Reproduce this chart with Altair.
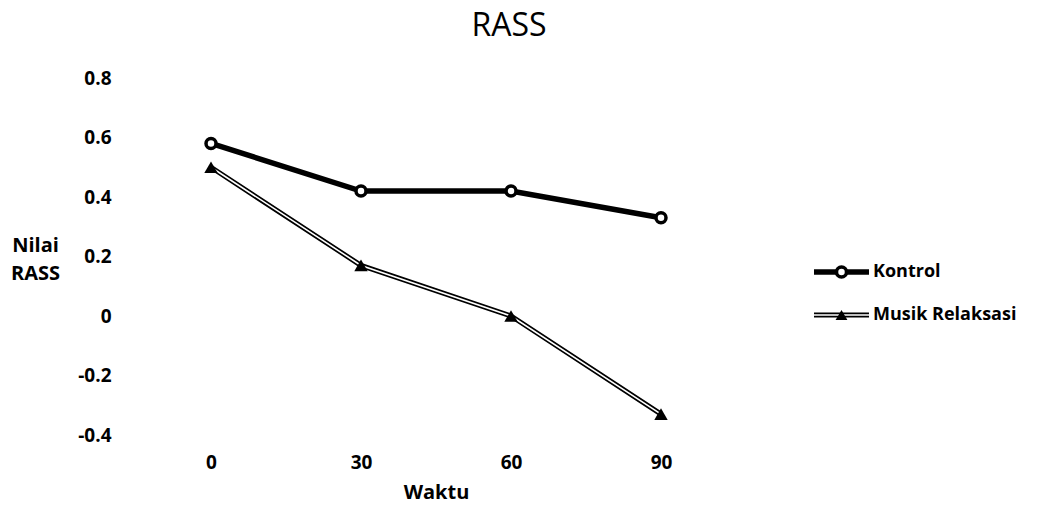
import altair as alt
import pandas as pd

# ---- data ----
waktu = [0, 30, 60, 90]
kontrol = [0.58, 0.42, 0.42, 0.33]
musik = [0.50, 0.17, 0.00, -0.33]
series = ["Kontrol", "Musik Relaksasi"]
y_ticks = [-0.4, -0.2, 0, 0.2, 0.4, 0.6, 0.8]
x_domain = [-15, 105]
y_domain = [-0.4, 0.8]

FONT = "Open Sans"

rows = []
for w, k, m in zip(waktu, kontrol, musik):
    rows.append({"Waktu": w, "Nilai": k, "Seri": series[0]})
    rows.append({"Waktu": w, "Nilai": m, "Seri": series[1]})
df = pd.DataFrame(rows)

x_enc = alt.X(
    "Waktu:Q",
    scale=alt.Scale(domain=x_domain, nice=False, zero=False),
    axis=alt.Axis(
        values=waktu, title="Waktu", grid=False, domain=False, ticks=False,
        labelPadding=18, titlePadding=10, labelFontSize=19, labelFontWeight="bold",
        titleFontSize=20, titleFontWeight="bold", labelFont=FONT, titleFont=FONT,
        labelColor="black", titleColor="black",
    ),
)
y_enc = alt.Y(
    "Nilai:Q",
    scale=alt.Scale(domain=y_domain, nice=False, zero=False),
    axis=alt.Axis(
        values=y_ticks, title=["Nilai", "RASS"], grid=False, domain=False, ticks=False,
        labelExpr="datum.value == 0 ? '0' : (datum.value < 0 ? '-' + format(-datum.value, '.1f') : format(datum.value, '.1f'))",
        labelPadding=25, labelFontSize=19, labelFontWeight="bold", labelFont=FONT,
        labelColor="black", titleColor="black",
        titleAngle=0, titleAlign="center", titleBaseline="middle",
        titleX=-101, titleY=167, titleFontSize=20, titleFontWeight="bold",
        titleFont=FONT, titleLineHeight=28,
    ),
)

base = alt.Chart(df).encode(x=x_enc, y=y_enc)
k_data = base.transform_filter(alt.datum.Seri == series[0])
m_data = base.transform_filter(alt.datum.Seri == series[1])

k_line = k_data.mark_line(color="black", strokeWidth=5.5)
k_pts = k_data.mark_point(shape="circle", fill="white", stroke="black",
                          strokeWidth=3.5, size=100, opacity=1, filled=False)
m_line_out = m_data.mark_line(color="black", strokeWidth=5)
m_line_in = m_data.mark_line(color="white", strokeWidth=1.6)
m_pts = m_data.mark_point(shape="triangle-up", filled=True, color="black",
                          size=180, opacity=1)

main = alt.layer(k_line, m_line_out, m_line_in, k_pts, m_pts).properties(
    width=600, height=357,
    title=alt.TitleParams("RASS", fontSize=32, font=FONT, fontWeight="normal",
                          color="black", dx=73, offset=26),
)

# ---- legend panel ----
leg_rows = []
for s in series:
    leg_rows.append({"Seri": s, "p": 0.0})
    leg_rows.append({"Seri": s, "p": 1.0})
leg_df = pd.DataFrame(leg_rows)
leg_mark_df = pd.DataFrame({"Seri": series, "p": [0.5, 0.5]})
leg_txt_df = pd.DataFrame({"Seri": series, "p": [1.0, 1.0], "lbl": series})

lx = alt.X("p:Q", scale=alt.Scale(domain=[0, 1], nice=False), axis=None)
ly = alt.Y("Seri:N", scale=alt.Scale(domain=series, range=[194, 237], padding=0), axis=None)

lb = alt.Chart(leg_df).encode(x=lx, y=ly)
lk = lb.transform_filter(alt.datum.Seri == series[0])
lm = lb.transform_filter(alt.datum.Seri == series[1])
lmk = alt.Chart(leg_mark_df).encode(x=lx, y=ly)

legend = alt.layer(
    lk.mark_line(color="black", strokeWidth=5.5),
    lm.mark_line(color="black", strokeWidth=5),
    lm.mark_line(color="white", strokeWidth=1.6),
    lmk.transform_filter(alt.datum.Seri == series[0]).mark_point(
        shape="circle", fill="white", stroke="black", strokeWidth=3.5, size=100, opacity=1),
    lmk.transform_filter(alt.datum.Seri == series[1]).mark_point(
        shape="triangle-up", filled=True, color="black", size=140, opacity=1),
    alt.Chart(leg_txt_df).mark_text(align="left", baseline="middle", dx=4,
                                    fontSize=18, fontWeight="bold", font=FONT,
                                    color="black").encode(x=lx, y=ly, text="lbl:N"),
).properties(width=55, height=357)

chart = alt.hconcat(main, legend, spacing=67).properties(
    padding={"left": 10, "top": 10, "right": 5, "bottom": 5},
    background="white",
).configure_view(stroke=None)

chart.save("out.html", embed_options={"renderer": "svg", "actions": False})
